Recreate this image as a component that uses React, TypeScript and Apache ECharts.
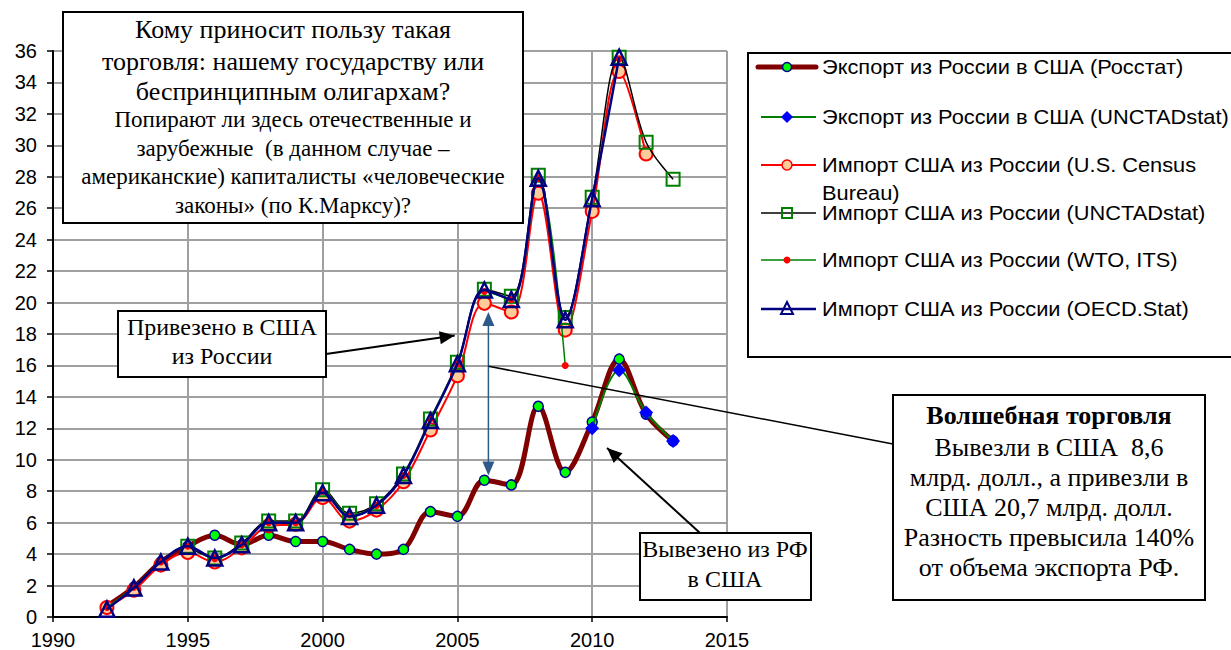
import React, { useEffect, useRef } from "react";
import * as echarts from "echarts";

const years = [1992, 1993, 1994, 1995, 1996, 1997, 1998, 1999, 2000, 2001, 2002, 2003, 2004, 2005, 2006, 2007, 2008, 2009, 2010, 2011, 2012, 2013];
const exportRosstat = [0.7, 1.9, 3.5, 4.5, 5.2, 4.6, 5.2, 4.8, 4.8, 4.3, 4.0, 4.3, 6.7, 6.4, 8.7, 8.4, 13.4, 9.2, 12.4, 16.4, 12.9, 11.2];
const exportUnctad = [null, null, null, null, null, null, null, null, null, null, null, null, null, null, null, null, null, null, 12.0, 15.7, 13.0, 11.2];
const importCensus = [0.6, 1.7, 3.3, 4.1, 3.5, 4.4, 5.8, 5.9, 7.6, 6.1, 6.8, 8.6, 11.9, 15.35, 19.95, 19.4, 26.95, 18.25, 25.8, 34.7, 29.45, null];
const importUnctad = [null, null, null, 4.5, 3.75, 4.7, 6.1, 6.1, 8.1, 6.6, 7.2, 9.1, 12.6, 16.2, 20.85, 20.4, 28.1, 19.05, 26.7, 35.6, 30.2, 27.85];
const importWto = [0.6, 1.9, 3.5, 4.5, 3.7, 4.6, 6.0, 6.0, 8.0, 6.5, 7.1, 9.0, 12.6, 16.1, 20.7, 20.2, 27.9, 16.0, null, 35.5, null, null];
const importOecd = [0.5, 1.85, 3.5, 4.5, 3.75, 4.6, 6.0, 6.0, 7.9, 6.4, 7.1, 9.0, 12.5, 16.1, 20.8, 20.2, 27.9, 18.9, 26.6, 35.6, null, null];

const seriesNames = [
  "Экспорт из России в США (Росстат)",
  "Экспорт из России в США (UNCTADstat)",
  "Импорт США из России (U.S. Census Bureau)",
  "Импорт США из России (UNCTADstat)",
  "Импорт США из России (WTO, ITS)",
  "Импорт США из России (OECD.Stat)",
];
const legendLines = [
  ["Экспорт из России в США (Росстат)"],
  ["Экспорт из России в США (UNCTADstat)"],
  ["Импорт США из России (U.S. Census", "Bureau)"],
  ["Импорт США из России (UNCTADstat)"],
  ["Импорт США из России (WTO, ITS)"],
  ["Импорт США из России (OECD.Stat)"],
];

const questionBig = ["Кому приносит пользу такая", "торговля: нашему государству или", "беспринципным олигархам?"];
const questionSmall = ["Попирают ли здесь отечественные и", "зарубежные  (в данном случае –", "американские) капиталисты «человеческие", "законы» (по К.Марксу)?"];
const importedLabel = ["Привезено в США", "из России"];
const exportedLabel = ["Вывезено из РФ", "в США"];
const magicTitle = "Волшебная торговля";
const magicLines = ["Вывезли в США  8,6", "млрд. долл., а привезли в", "США 20,7 млрд. долл.", "Разность превысила 140%", "от объема экспорта РФ."];

const SERIF = '"Liberation Serif", "Times New Roman", serif';
const SANS = '"Liberation Sans", Arial, sans-serif';

const pairs = (vals: (number | null)[]) => years.map((y, i) => [y, vals[i]]);

function arrowHead(tip: number[], from: number[], len: number, w: number) {
  const dx = tip[0] - from[0];
  const dy = tip[1] - from[1];
  const d = Math.hypot(dx, dy) || 1;
  const ux = dx / d, uy = dy / d;
  const bx = tip[0] - ux * len, by = tip[1] - uy * len;
  const px = -uy * (w / 2), py = ux * (w / 2);
  return [tip, [bx + px, by + py], [bx - px, by - py]];
}

export default function App() {
  const ref = useRef<HTMLDivElement>(null);
  useEffect(() => {
    if (!ref.current) return;
    const chart = echarts.init(ref.current, null, { renderer: "svg" });
    const clear = "rgba(0,0,0,0)";
    const option: any = {
      animation: false,
      backgroundColor: "#fff",
      grid: { left: 53, right: 504, top: 51, bottom: 33, containLabel: false },
      xAxis: {
        type: "value", min: 1990, max: 2015, interval: 5,
        axisLine: { show: true, onZero: false, lineStyle: { color: "#000", width: 2 } },
        axisTick: { show: true, length: 5, lineStyle: { color: "#000", width: 1.5 } },
        axisLabel: { color: "#000", fontFamily: SANS, fontSize: 20, margin: 13, formatter: (v: number) => String(v) },
        splitLine: { show: true, lineStyle: { color: "#a0a0a0", width: 2 } },
      },
      yAxis: {
        type: "value", min: 0, max: 36, interval: 2,
        axisLine: { show: true, lineStyle: { color: "#000", width: 2 } },
        axisTick: { show: true, length: 6, lineStyle: { color: "#000", width: 1.5 } },
        axisLabel: { color: "#000", fontFamily: SANS, fontSize: 20, margin: 16, formatter: (v: number) => String(v) },
        splitLine: { show: true, lineStyle: { color: "#a0a0a0", width: 2 } },
      },
      series: [
        {
          name: seriesNames[0], type: "line", smooth: 0.35, data: pairs(exportRosstat),
          lineStyle: { color: "#800000", width: 5 }, symbol: "circle", symbolSize: 10,
          itemStyle: { color: "#00ff00", borderColor: "#000090", borderWidth: 1.5 }, z: 2,
        },
        {
          name: seriesNames[1], type: "line", smooth: 0.35, data: pairs(exportUnctad),
          lineStyle: { color: "#008000", width: 2 }, symbol: "diamond", symbolSize: 14,
          itemStyle: { color: "#0000ff", borderColor: "#0000ff", borderWidth: 0 }, z: 3,
        },
        {
          name: seriesNames[2], type: "line", smooth: 0.35, data: pairs(importCensus),
          lineStyle: { color: "#ff0000", width: 2 }, symbol: "circle", symbolSize: 13,
          itemStyle: { color: "#ffcc99", borderColor: "#ff0000", borderWidth: 2 }, z: 4,
        },
        {
          name: seriesNames[3], type: "line", smooth: 0.35, data: pairs(importUnctad),
          lineStyle: { color: "#000000", width: 1.5 }, symbol: "rect", symbolSize: 13,
          itemStyle: { color: clear, borderColor: "#008000", borderWidth: 2 }, z: 5,
        },
        {
          name: seriesNames[4], type: "line", smooth: 0.35, data: pairs(importWto), connectNulls: false,
          lineStyle: { color: "#008000", width: 1.5 }, symbol: "circle", symbolSize: 7,
          itemStyle: { color: "#ff0000", borderColor: "#ff0000", borderWidth: 0 }, z: 6,
        },
        {
          name: seriesNames[5], type: "line", smooth: 0.35, data: pairs(importOecd),
          lineStyle: { color: "#000080", width: 2.5 }, symbol: "triangle", symbolSize: 15,
          itemStyle: { color: clear, borderColor: "#000080", borderWidth: 2.5 }, z: 7,
        },
      ],
    };
    chart.setOption(option);

    const P = (x: number, y: number) => chart.convertToPixel({ gridIndex: 0 }, [x, y]) as number[];
    const g: any[] = [];

    // Top question box
    g.push({ type: "rect", shape: { x: 63, y: 12, width: 460, height: 211 }, style: { fill: "#fff", stroke: "#000", lineWidth: 2 }, z: 100 });
    const qY = [29, 61, 91];
    questionBig.forEach((t, i) => g.push({ type: "text", x: 293, y: qY[i], style: { text: t, font: `26px ${SERIF}`, fill: "#000", textAlign: "center", textVerticalAlign: "middle", align: "center", verticalAlign: "middle" }, z: 101 }));
    const sY = [119, 148, 176, 205];
    questionSmall.forEach((t, i) => g.push({ type: "text", x: 293, y: sY[i], style: { text: t, font: `23px ${SERIF}`, fill: "#000", textAlign: "center", textVerticalAlign: "middle", align: "center", verticalAlign: "middle" }, z: 101 }));

    // Legend box
    g.push({ type: "rect", shape: { x: 748, y: 53, width: 500, height: 304 }, style: { fill: "#fff", stroke: "#000", lineWidth: 2 }, z: 100 });
    const rowY = [67, 117, 165, 213, 260, 309];
    const lineCols = ["#800000", "#008000", "#ff0000", "#000000", "#008000", "#000080"];
    const lineW = [5, 2, 2, 1.5, 1.5, 2.5];
    rowY.forEach((y, i) => {
      g.push({ type: "line", shape: { x1: i === 0 ? 758 : 761, y1: y, x2: 816, y2: y }, style: { stroke: lineCols[i], lineWidth: lineW[i], lineCap: i === 0 ? "round" : "butt" }, z: 101 });
      const cx = 787;
      if (i === 0) g.push({ type: "circle", shape: { cx, cy: y, r: 4.5 }, style: { fill: "#00ff00", stroke: "#000090", lineWidth: 1.5 }, z: 102 });
      if (i === 1) g.push({ type: "polygon", shape: { points: [[cx, y - 6], [cx + 6, y], [cx, y + 6], [cx - 6, y]] }, style: { fill: "#0000ff" }, z: 102 });
      if (i === 2) g.push({ type: "circle", shape: { cx, cy: y, r: 5 }, style: { fill: "#ffcc99", stroke: "#ff0000", lineWidth: 1.5 }, z: 102 });
      if (i === 3) g.push({ type: "rect", shape: { x: cx - 5, y: y - 5, width: 10, height: 10 }, style: { fill: clear, stroke: "#008000", lineWidth: 2 }, z: 102 });
      if (i === 4) g.push({ type: "circle", shape: { cx, cy: y, r: 3.5 }, style: { fill: "#ff0000" }, z: 102 });
      if (i === 5) g.push({ type: "polygon", shape: { points: [[cx, y - 7], [cx + 6, y + 5], [cx - 6, y + 5]] }, style: { fill: clear, stroke: "#000080", lineWidth: 2 }, z: 102 });
      legendLines[i].forEach((t, j) => g.push({ type: "text", x: 822, y: y + j * 28, scaleX: 1.09, style: { text: t, font: `20px ${SANS}`, fill: "#000", textAlign: "left", textVerticalAlign: "middle", align: "left", verticalAlign: "middle" }, z: 103 }));
    });

    // Imported box + arrow
    g.push({ type: "rect", shape: { x: 118, y: 311, width: 208, height: 66 }, style: { fill: "#fff", stroke: "#000", lineWidth: 2 }, z: 100 });
    importedLabel.forEach((t, i) => g.push({ type: "text", x: 222, y: [327, 356][i], style: { text: t, font: `24px ${SERIF}`, fill: "#000", textAlign: "center", textVerticalAlign: "middle", align: "center", verticalAlign: "middle" }, z: 101 }));
    const a1tip = P(2004.9, 17.9);
    const a1tail = [326, 354];
    g.push({ type: "line", shape: { x1: a1tail[0], y1: a1tail[1], x2: a1tip[0], y2: a1tip[1] }, style: { stroke: "#000", lineWidth: 2 }, z: 90 });
    g.push({ type: "polygon", shape: { points: arrowHead(a1tip, a1tail, 15, 13) }, style: { fill: "#000" }, z: 91 });

    // Double arrow at 2006
    const dTop = P(2006.15, 19.4);
    const dBot = P(2006.15, 9.0);
    g.push({ type: "line", shape: { x1: dTop[0], y1: dTop[1] + 10, x2: dBot[0], y2: dBot[1] - 10 }, style: { stroke: "#2e5a8a", lineWidth: 1.5 }, z: 90 });
    g.push({ type: "polygon", shape: { points: arrowHead(dTop, dBot, 14, 12) }, style: { fill: "#2e5a8a" }, z: 91 });
    g.push({ type: "polygon", shape: { points: arrowHead(dBot, dTop, 14, 12) }, style: { fill: "#2e5a8a" }, z: 91 });

    // Connector to magic box
    const cStart = P(2006.15, 15.95);
    g.push({ type: "line", shape: { x1: cStart[0], y1: cStart[1], x2: 893, y2: 444 }, style: { stroke: "#000", lineWidth: 1.5 }, z: 90 });

    // Exported box + arrow
    const a3tip = P(2010.55, 10.75);
    const a3tail = [700, 533];
    g.push({ type: "line", shape: { x1: a3tail[0], y1: a3tail[1], x2: a3tip[0], y2: a3tip[1] }, style: { stroke: "#000", lineWidth: 2 }, z: 90 });
    g.push({ type: "polygon", shape: { points: arrowHead(a3tip, a3tail, 15, 13) }, style: { fill: "#000" }, z: 91 });
    g.push({ type: "rect", shape: { x: 640, y: 533, width: 171, height: 67 }, style: { fill: "#fff", stroke: "#000", lineWidth: 2 }, z: 100 });
    exportedLabel.forEach((t, i) => g.push({ type: "text", x: 725, y: [549, 579][i], style: { text: t, font: `24px ${SERIF}`, fill: "#000", textAlign: "center", textVerticalAlign: "middle", align: "center", verticalAlign: "middle" }, z: 101 }));

    // Magic box
    g.push({ type: "rect", shape: { x: 893, y: 395, width: 312, height: 205 }, style: { fill: "#fff", stroke: "#000", lineWidth: 2 }, z: 100 });
    g.push({ type: "text", x: 1049, y: 415, style: { text: magicTitle, font: `bold 26px ${SERIF}`, fill: "#000", textAlign: "center", textVerticalAlign: "middle", align: "center", verticalAlign: "middle" }, z: 101 });
    magicLines.forEach((t, i) => g.push({ type: "text", x: 1049, y: 447 + i * 30, style: { text: t, font: `26px ${SERIF}`, fill: "#000", textAlign: "center", textVerticalAlign: "middle", align: "center", verticalAlign: "middle" }, z: 101 }));

    chart.setOption({ graphic: { elements: g } });
    return () => chart.dispose();
  }, []);
  return <div ref={ref} style={{ position: "absolute", left: 0, top: 0, width: 1231, height: 650 }} />;
}
